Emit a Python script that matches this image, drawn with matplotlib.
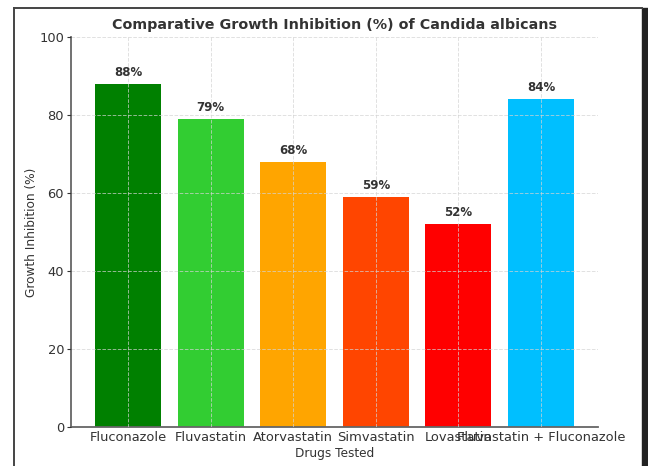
import matplotlib
matplotlib.use("Agg")
import matplotlib.pyplot as plt
from matplotlib.lines import Line2D

drugs = ["Fluconazole", "Fluvastatin", "Atorvastatin", "Simvastatin",
         "Lovastatin", "Fluvastatin + Fluconazole"]
inhibition = [88, 79, 68, 59, 52, 84]
colors = ["green", "limegreen", "orange", "orangered", "red", "deepskyblue"]

fig = plt.figure(figsize=(6.48, 4.66), dpi=100)
ax = fig.add_axes([0.1096, 0.0837, 0.8132, 0.8369])

bars = ax.bar(drugs, inhibition, color=colors, width=0.8)
for b, v in zip(bars, inhibition):
    ax.text(b.get_x() + b.get_width() / 2, v + 1.3, f"{v}%",
            ha="center", va="bottom", fontsize=8.5, fontweight="bold", color="#333333")

ax.set_ylim(0, 100)
ax.set_title("Comparative Growth Inhibition (%) of Candida albicans",
             fontsize=10.3, fontweight="bold", color="#333333", pad=6)
ax.set_xlabel("Drugs Tested", fontsize=8.7, color="#333333", labelpad=2)
ax.set_ylabel("Growth Inhibition (%)", fontsize=8.7, color="#333333", labelpad=1)
ax.tick_params(axis="both", labelsize=9.4, colors="#333333")
ax.tick_params(axis="y", length=3, pad=2)
ax.tick_params(axis="x", length=0, pad=3)
ax.grid(True, linestyle="--", color="lightgray", linewidth=0.7, alpha=0.7)
ax.set_axisbelow(False)
for s in ("top", "right"):
    ax.spines[s].set_visible(False)
for s in ("left", "bottom"):
    ax.spines[s].set_color("#666666")
    ax.spines[s].set_linewidth(1.3)

# window frame around the figure
fig.add_artist(Line2D([14 / 648, 642 / 648], [1 - 8 / 466, 1 - 8 / 466],
                      transform=fig.transFigure, color="#444444", lw=1.4))
fig.add_artist(Line2D([14 / 648, 14 / 648], [0, 1 - 8 / 466],
                      transform=fig.transFigure, color="#444444", lw=1.4))
fig.add_artist(plt.Rectangle((642 / 648, 0), 6 / 648, 1 - 8 / 466,
                             transform=fig.transFigure, color="#222222"))

fig.savefig("out.png", dpi=100)
